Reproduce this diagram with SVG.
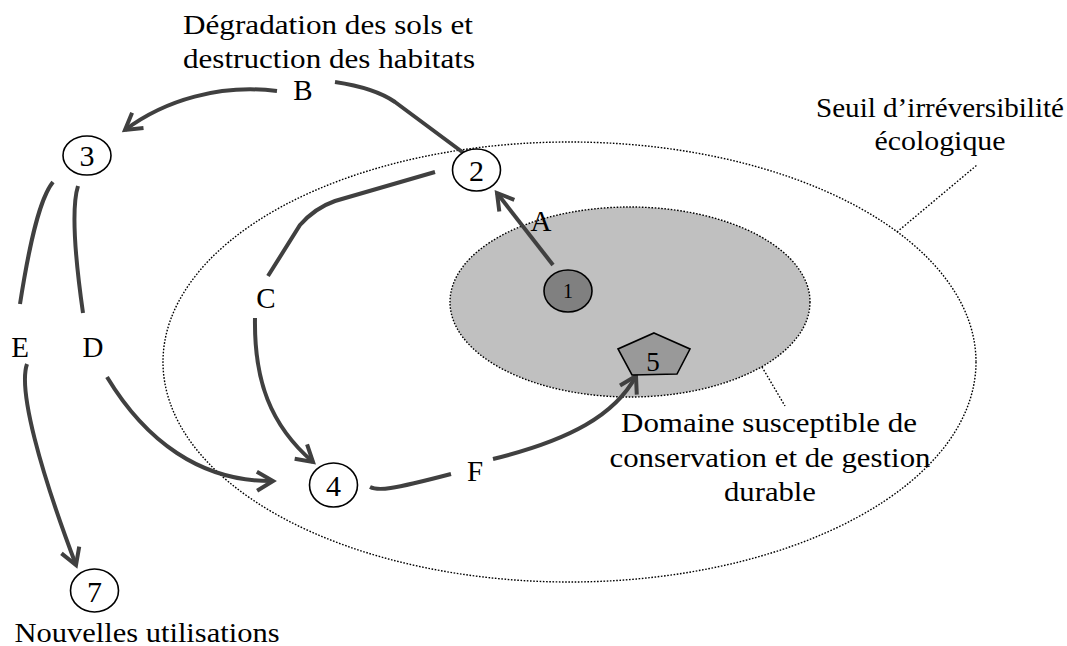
<svg xmlns="http://www.w3.org/2000/svg" width="1067" height="646" viewBox="0 0 1067 646">
<style>
text{font-family:"Liberation Serif","Times New Roman",serif;fill:#000;text-anchor:middle}
.body{font-size:28px}
.lbl{font-size:29px}
.num{font-size:30px}
.zone{stroke:#000;stroke-width:1.4;stroke-dasharray:1.6 1.6}
.lead{fill:none;stroke:#000;stroke-width:1.4;stroke-dasharray:1.6 1.8}
.conn{fill:none;stroke:#404040;stroke-width:4}
.arr{marker-end:url(#chev)}
.node{fill:#fff;stroke:#000;stroke-width:1.6}
</style>
<defs>
<marker id="chev" markerUnits="userSpaceOnUse" markerWidth="40" markerHeight="40" viewBox="-20 -20 40 40" refX="0" refY="0" orient="auto" overflow="visible">
<path d="M-16,-9.5 L0,0 L-16,9.5" fill="none" stroke="#404040" stroke-width="4"/>
</marker>
</defs>
<rect width="1067" height="646" fill="#fff"/>

<g id="zone-seuil">
<ellipse class="zone" cx="569.5" cy="362" rx="406.5" ry="220" fill="none"/>
<path class="lead" d="M897,232 L977,165"/>
<text class="body" x="940" y="117" textLength="248" lengthAdjust="spacingAndGlyphs">Seuil d’irréversibilité</text>
<text class="body" x="940" y="150" textLength="131" lengthAdjust="spacingAndGlyphs">écologique</text>
</g>

<g id="zone-domaine">
<ellipse class="zone" cx="630" cy="302" rx="180" ry="95" fill="#c0c0c0"/>
<path class="lead" d="M762,367 L785,406"/>
<text class="body" x="769" y="432" textLength="296" lengthAdjust="spacingAndGlyphs">Domaine susceptible de</text>
<text class="body" x="770" y="467" textLength="321" lengthAdjust="spacingAndGlyphs">conservation et de gestion</text>
<text class="body" x="770" y="501" textLength="92" lengthAdjust="spacingAndGlyphs">durable</text>
</g>

<g id="connectors">
<path class="conn arr" d="M553,265 L497,193"/>
<path class="conn arr" d="M277,91 C220,84 165,100 125,130"/>
<path class="conn" d="M335,82 Q375,88 395,102 L465,154"/>
<path class="conn" d="M435,172 L335,201 Q315,208 300,225 L268,276"/>
<path class="conn arr" d="M255,318 C254,380 270,425 313,462"/>
<path class="conn" d="M78,186 C72,205 74,250 83,313"/>
<path class="conn arr" d="M107,377 C145,440 200,482 273,481"/>
<path class="conn" d="M53,182 C40,198 30,240 20,304"/>
<path class="conn arr" d="M27,364 C18,390 40,470 76,565"/>
<path class="conn" d="M370,487 C378,491 390,490 451,474"/>
<path class="conn arr" d="M493,459 C570,440 615,415 636,376"/>
<text class="lbl" x="303" y="100">B</text>
<text class="lbl" x="541" y="231">A</text>
<text class="lbl" x="266" y="308">C</text>
<text class="lbl" x="20" y="357">E</text>
<text class="lbl" x="93" y="357">D</text>
<text class="lbl" x="475" y="481">F</text>
</g>

<g id="title">
<text class="body" x="328" y="34" textLength="290" lengthAdjust="spacingAndGlyphs">Dégradation des sols et</text>
<text class="body" x="329" y="68" textLength="292" lengthAdjust="spacingAndGlyphs">destruction des habitats</text>
</g>

<g id="node1">
<ellipse cx="568" cy="291" rx="24" ry="21" fill="#808080" stroke="#000" stroke-width="1.6"/>
<text x="568" y="298" style="font-size:20px">1</text>
</g>
<g id="node2">
<ellipse class="node" cx="476.5" cy="170" rx="24" ry="21"/>
<text class="num" x="476.5" y="180.5">2</text>
</g>
<g id="node3">
<ellipse class="node" cx="87" cy="155.5" rx="24" ry="19.5"/>
<text class="num" x="87" y="166">3</text>
</g>
<g id="node4">
<ellipse class="node" cx="333.5" cy="485" rx="24" ry="22"/>
<text class="num" x="333.5" y="496">4</text>
</g>
<g id="node5">
<polygon points="654,333 690,349 677,374 632,375 618,349" fill="#999" stroke="#000" stroke-width="1.6"/>
<text x="653" y="371" style="font-size:27px">5</text>
</g>
<g id="node7">
<ellipse class="node" cx="94.5" cy="590.5" rx="24" ry="21.5"/>
<text class="num" x="94.5" y="601.5">7</text>
<text class="body" x="147" y="642" textLength="265" lengthAdjust="spacingAndGlyphs">Nouvelles utilisations</text>
</g>
</svg>
